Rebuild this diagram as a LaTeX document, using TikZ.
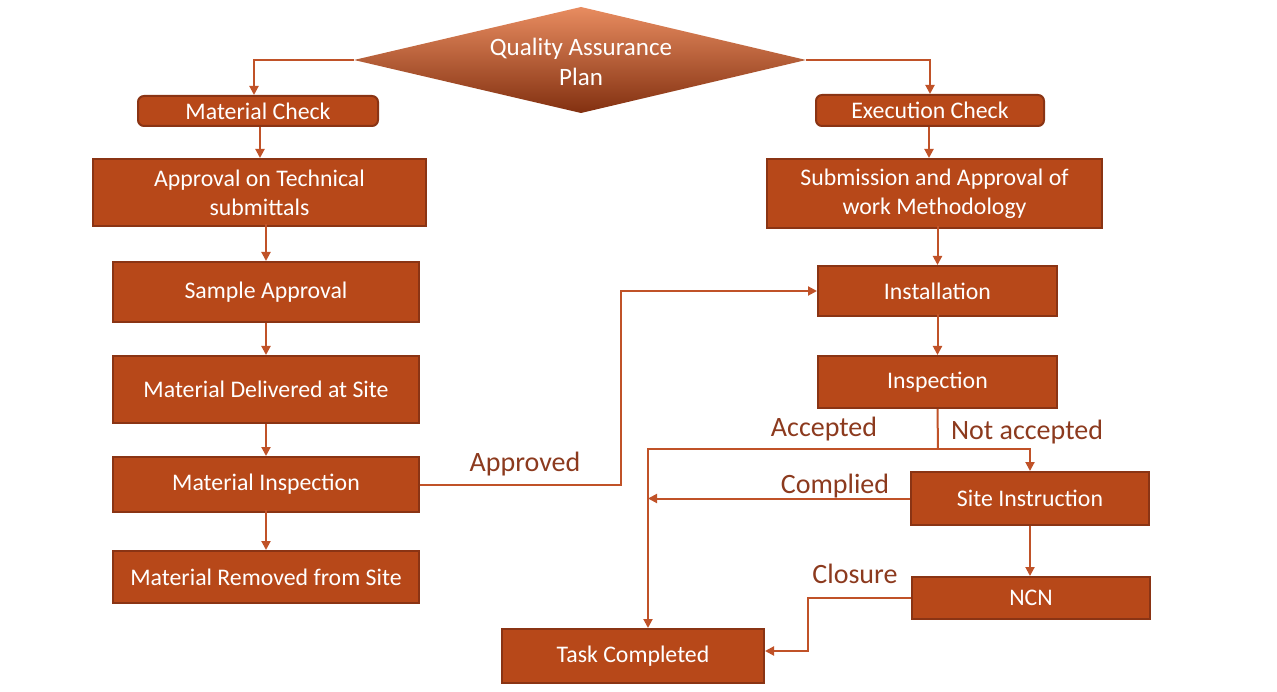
\documentclass[tikz,border=0pt]{standalone}
\usepackage{fontspec}
\setmainfont{Carlito}
\usetikzlibrary{arrows.meta}
\definecolor{boxfill}{RGB}{183,72,25}
\definecolor{boxline}{RGB}{138,52,20}
\definecolor{conn}{RGB}{192,82,40}
\definecolor{lbl}{RGB}{140,58,30}
\definecolor{dtop}{RGB}{232,140,96}
\definecolor{dmid}{RGB}{192,78,30}
\definecolor{dbot}{RGB}{130,48,16}
\tikzset{
  stepbox/.style={draw=boxline, line width=2pt, fill=boxfill, text=white,
    inner sep=0pt, align=center, font=\fontsize{23.8}{29}\selectfont},
  roundbox/.style={stepbox, rounded corners=6pt},
  arr/.style={draw=conn, line width=2pt, -{Triangle[length=9pt,width=9pt]}},
  ln/.style={draw=conn, line width=2pt},
  lab/.style={text=lbl, inner sep=0pt, font=\fontsize{28}{32}\selectfont},
}
\begin{document}
\begin{tikzpicture}[x=1pt,y=-1pt]
\useasboundingbox (0,0) rectangle (1277,692);
% decision diamond
\coordinate (qL) at (354,60);
\coordinate (qR) at (806,60);
\coordinate (qT) at (581,7);
\coordinate (qB) at (581,113);
\shade[top color=dtop, middle color=dmid, bottom color=dbot] (qL) -- (qT) -- (qR) -- (qB) -- cycle;
\node[text=white, align=center, inner sep=0pt, font=\fontsize{25}{30}\selectfont] (qap) at (581,62) {Quality Assurance\\Plan};
% left column
\node[roundbox, minimum width=240pt, minimum height=30pt] (mc) at (258,111) {Material Check};
\node[stepbox, minimum width=333pt, minimum height=67pt] (at) at (259.5,192.5) {Approval on Technical\\submittals};
\node[stepbox, minimum width=306pt, minimum height=60pt] (sa) at (266,292) {Sample Approval};
\node[stepbox, minimum width=306pt, minimum height=67pt] (md) at (266,389.5) {Material Delivered at Site};
\node[stepbox, minimum width=306pt, minimum height=55pt] (mi) at (266,484.5) {Material Inspection};
\node[stepbox, minimum width=306pt, minimum height=52pt] (mr) at (266,577) {Material Removed from Site};
% right column
\node[roundbox, minimum width=228pt, minimum height=31pt] (ec) at (930,110.5) {Execution Check};
\node[stepbox, minimum width=335pt, minimum height=69pt] (sw) at (934.5,193.5) {Submission and Approval of\\work Methodology};
\node[stepbox, minimum width=239pt, minimum height=50pt] (in) at (937.5,291) {Installation};
\node[stepbox, minimum width=239pt, minimum height=52pt] (is) at (937.5,382) {Inspection};
\node[stepbox, minimum width=238pt, minimum height=53pt] (si) at (1030,498.5) {Site Instruction};
\node[stepbox, minimum width=238pt, minimum height=42pt] (ncn) at (1031,598) {NCN};
\node[stepbox, minimum width=262pt, minimum height=54pt] (tc) at (633,656) {Task Completed};
% helper coordinates
\coordinate (ap) at (621,484);
\coordinate (jn) at (938,449);
\coordinate (jl) at (648,449);
\coordinate (cl) at (808,598);
% connectors
\draw[arr] (qL) -| ([xshift=-4pt]mc.north);
\draw[arr] (qR) -| (ec.north);
\draw[arr] ([xshift=2pt]mc.south) -- ([xshift=2pt]mc.south |- at.north);
\draw[arr] ([yshift=3pt]sa.north |- at.south) -- (sa.north);
\draw[arr] (sa.south) -- (md.north);
\draw[arr] (md.south) -- (mi.north);
\draw[arr] ([yshift=3pt]mi.south) -- (mr.north);
\draw[arr] ([xshift=-1pt]ec.south) -- ([xshift=-1pt]ec.south |- sw.north);
\draw[arr] ([yshift=3pt]in.north |- sw.south) -- (in.north);
\draw[arr] ([yshift=3pt]in.south) -- (is.north);
\draw[arr] (mi.east) -- (mi.east -| ap) |- (in.west);
\draw[ln] (is.south) -- (jn);
\draw[arr] (jn) -| (si.north);
\draw[arr] (jn) -- (jl) -- (jl |- tc.north);
\draw[arr] (si.west) -- (si.west -| jl);
\draw[arr] (si.south) -- (si.south |- ncn.north);
\draw[arr] (ncn.west) -- (cl) |- ([yshift=5pt]tc.east);
% labels
\node[lab] (lapp) at (525,464) {Approved};
\node[lab] (lacc) at (824,429) {Accepted};
\node[lab] (lnot) at (1027,432) {Not accepted};
\node[lab] (lcom) at (835,486) {Complied};
\node[lab] (lclo) at (855,574) {Closure};
\end{tikzpicture}
\end{document}
